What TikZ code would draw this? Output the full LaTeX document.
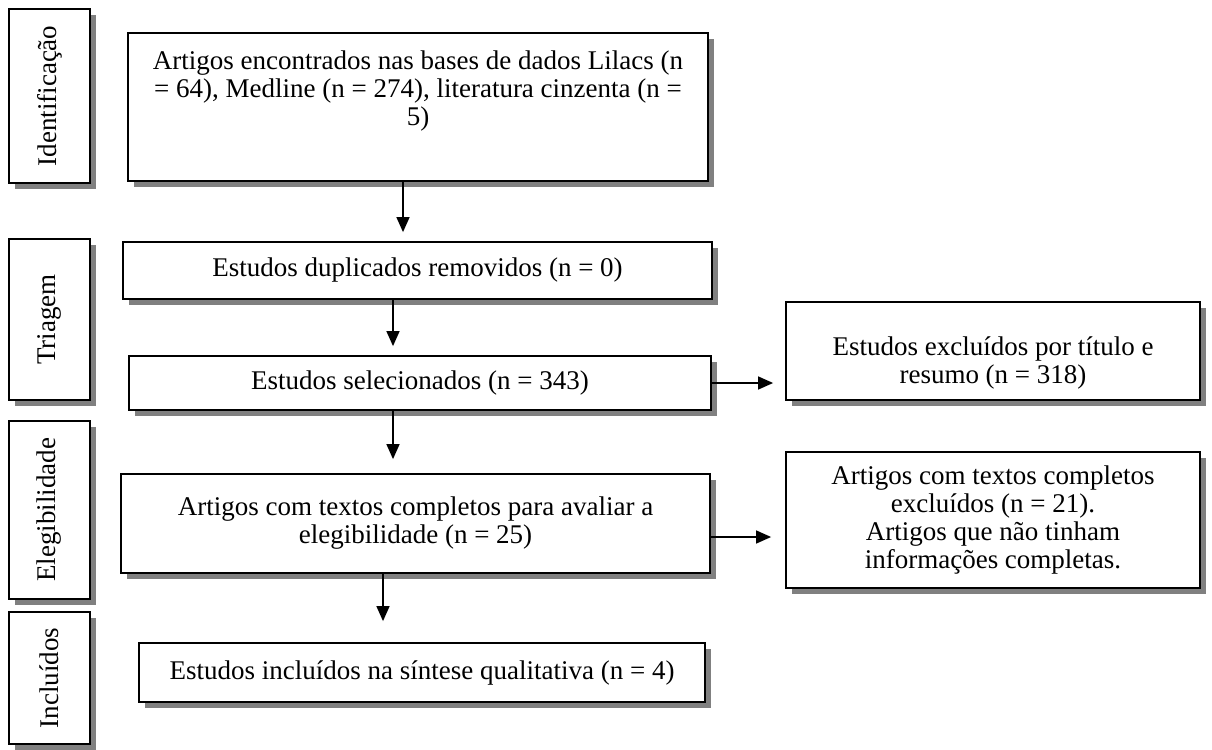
\documentclass[tikz,border=0pt]{standalone}
\usepackage{fontspec}
\setmainfont{Liberation Serif}
\usetikzlibrary{arrows.meta,shadows}

\begin{document}
\begin{tikzpicture}[x=0.5pt, y=-0.5pt,
    font=\fontsize{13.5}{14}\selectfont,
    box/.style={draw=black, line width=0.9pt, fill=white, align=center, inner sep=2pt,
        drop shadow={shadow xshift=3pt, shadow yshift=-3pt, fill=black!50, opacity=1}},
    phase/.style={box, minimum width=40.5pt},
    flow/.style={-{Triangle[length=7.5pt,width=6.5pt]}, line width=0.7pt}]

    \useasboundingbox (0,0) rectangle (1212,750);

    % Phases on the left
    \node[phase, minimum height=87pt] (ident) at (49.5,96) {\rotatebox{90}{Identificação}};
    \node[phase, minimum height=80.5pt] (triag) at (49.5,319.5) {\rotatebox{90}{Triagem}};
    \node[phase, minimum height=89pt] (eleg) at (49.5,510) {\rotatebox{90}{Elegibilidade}};
    \node[phase, minimum height=66pt] (incl) at (49.5,678) {\rotatebox{90}{Incluídos}};

    % Main column
    \node[box, minimum width=290pt, minimum height=74pt,
        label={[align=center, yshift=8pt]center:{Artigos encontrados nas bases de dados Lilacs (n\\= 64), Medline (n = 274), literatura cinzenta (n =\\5)}}]
        (found) at (418,107) {};
    \node[box, minimum width=294.5pt, minimum height=28.5pt] (dup) at (417.5,270.5)
        {Estudos duplicados removidos (n = 0)};
    \node[box, minimum width=291pt, minimum height=27pt] (sel) at (420,383)
        {Estudos selecionados (n = 343)};
    \node[box, minimum width=294.5pt, minimum height=49.5pt] (full) at (415.5,523.5)
        {Artigos com textos completos para avaliar a\\elegibilidade (n = 25)};
    \node[box, minimum width=283pt, minimum height=29.5pt] (synth) at (422,672.5)
        {Estudos incluídos na síntese qualitativa (n = 4)};

    % Excluded (right column)
    \node[box, minimum width=207pt, minimum height=49pt,
        label={[align=center, yshift=-6pt]center:{Estudos excluídos por título e\\resumo (n = 318)}}]
        (excl1) at (993,351) {};
    \node[box, minimum width=207pt, minimum height=68pt] (excl2) at (993,520)
        {Artigos com textos completos\\excluídos (n = 21).\\Artigos que não tinham\\informações completas.};

    % Arrows down
    \draw[flow, shorten >=4.5pt] ([xshift=-7.5pt]found.south) -- ([xshift=-7.5pt]found.south |- dup.north);
    \draw[flow, shorten >=4.5pt] ([xshift=-12.25pt]dup.south) -- ([xshift=-12.25pt]dup.south |- sel.north);
    \draw[flow, shorten >=7pt] ([xshift=-13.5pt]sel.south) -- ([xshift=-13.5pt]sel.south |- full.north);
    \draw[flow, shorten >=10.5pt] ([xshift=-16.25pt]full.south) -- ([xshift=-16.25pt]full.south |- synth.north);

    % Arrows to the right
    \draw[flow, shorten >=6pt] (sel.east) -- (sel.east -| excl1.west);
    \draw[flow, shorten >=7pt] ([yshift=-6.75pt]full.east) -- ([yshift=-6.75pt]full.east -| excl2.west);

\end{tikzpicture}
\end{document}
